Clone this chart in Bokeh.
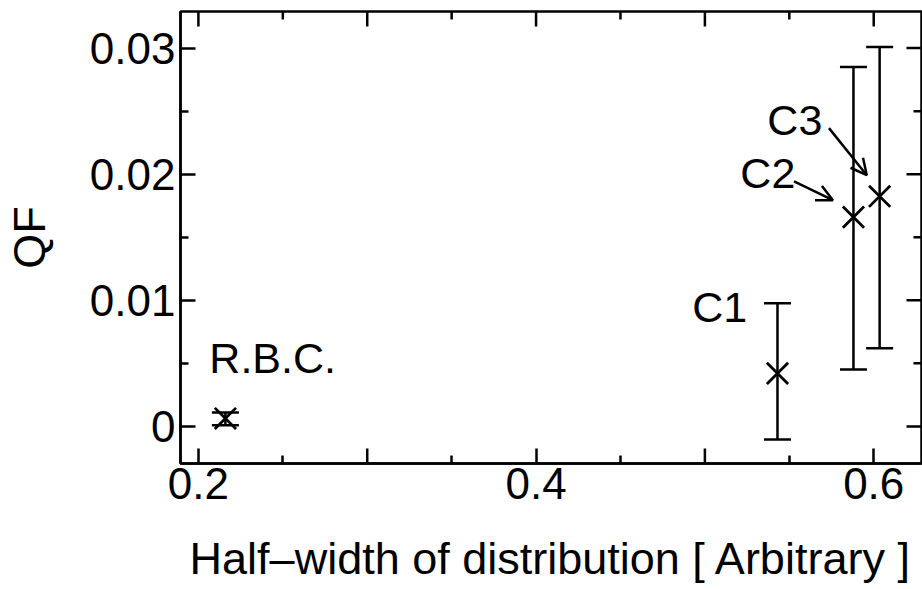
import math
from bokeh.plotting import figure
from bokeh.models import (ColumnDataSource, Whisker, TeeHead, Arrow, OpenHead,
                          FixedTicker, Range1d)
from bokeh.core.properties import value
from bokeh.embed import file_html
from bokeh.resources import INLINE

# ---- data ----
names = ["R.B.C.", "C1", "C2", "C3"]
half_width = [0.216, 0.543, 0.588, 0.6035]
qf = [0.00063, 0.0042, 0.0166, 0.01825]
qf_low = [0.0001, -0.00103, 0.00452, 0.00619]
qf_high = [0.0011, 0.00976, 0.0285, 0.03008]

x_labeled = [0.2, 0.4, 0.6]
x_unlabeled_major = [0.3, 0.5]
x_minor = [0.25, 0.35, 0.45, 0.55]
y_major = [0.0, 0.01, 0.02, 0.03]
y_minor = [0.005, 0.015, 0.025]
y_labels = {0.0: "0", 0.01: "0.01", 0.02: "0.02", 0.03: "0.03"}

# annotation placement (label anchors and arrows)
label_x = [0.2065, 0.4925, 0.521, 0.537]
label_y = [0.0054, 0.00944, 0.02008, 0.02429]
arrow_x0 = [0.5528, 0.5735]
arrow_y0 = [0.01944, 0.02365]
arrow_x1 = [0.5758, 0.5959]
arrow_y1 = [0.01794, 0.01992]

X_START, X_END = 0.1894, 0.6283
Y_START, Y_END = -0.00294, 0.0329

FONT = "Liberation Sans"
W, H = 922, 589
MAJ, MIN = 30, 16   # tick marker sizes (half shows inside the frame)
LW = 2.5

p = figure(width=W, height=H, output_backend="svg", toolbar_location=None,
           x_range=Range1d(X_START, X_END), y_range=Range1d(Y_START, Y_END),
           min_border_left=177, min_border_right=1, min_border_top=11,
           min_border_bottom=126)
p.background_fill_color = "white"
p.border_fill_color = "white"
p.grid.visible = False
p.outline_line_color = "black"
p.outline_line_width = LW

def style_axis(ax):
    ax.axis_line_color = "black"
    ax.axis_line_width = LW
    for a in ("major", "minor"):
        setattr(ax, a + "_tick_line_color", "black")
        setattr(ax, a + "_tick_line_width", LW)
        setattr(ax, a + "_tick_out", 0)
    ax.major_tick_in = 15
    ax.minor_tick_in = 8
    ax.major_label_text_font = FONT
    ax.major_label_text_font_size = "44px"
    ax.major_label_text_color = "black"
    ax.axis_label_text_font = FONT
    ax.axis_label_text_font_size = "45px"
    ax.axis_label_text_font_style = "normal"
    ax.axis_label_text_color = "black"

xa = p.xaxis[0]
ya = p.yaxis[0]
style_axis(xa)
style_axis(ya)
xa.ticker = FixedTicker(ticks=x_labeled, minor_ticks=x_minor)
ya.ticker = FixedTicker(ticks=y_major, minor_ticks=y_minor)
ya.major_label_overrides = y_labels
xa.major_label_standoff = 4
ya.major_label_standoff = 5
xa.axis_label = "Half\u2013width of distribution [ Arbitrary ]"
ya.axis_label = "QF"
xa.axis_label_standoff = 31
ya.axis_label_standoff = 32

# unlabeled long ticks on the bottom, and the inward ticks of the top and right frame sides
p.scatter(x_unlabeled_major, [Y_START] * len(x_unlabeled_major), marker="dash",
          size=MAJ, angle=math.pi / 2, line_color="black", line_width=LW)
top_x = x_labeled + x_unlabeled_major
p.scatter(top_x, [Y_END] * len(top_x), marker="dash", size=MAJ, angle=math.pi / 2,
          line_color="black", line_width=LW)
p.scatter(x_minor, [Y_END] * len(x_minor), marker="dash", size=MIN, angle=math.pi / 2,
          line_color="black", line_width=LW)
p.scatter([X_END] * len(y_major), y_major, marker="dash", size=MAJ,
          line_color="black", line_width=LW)
p.scatter([X_END] * len(y_minor), y_minor, marker="dash", size=MIN,
          line_color="black", line_width=LW)

src = ColumnDataSource(dict(x=half_width, y=qf, lo=qf_low, hi=qf_high,
                            names=names, lx=label_x, ly=label_y))

p.add_layout(Whisker(source=src, base="x", lower="lo", upper="hi",
                     line_color="black", line_width=LW,
                     upper_head=TeeHead(size=27, line_color="black", line_width=LW),
                     lower_head=TeeHead(size=27, line_color="black", line_width=LW)))

p.scatter("x", "y", source=src, marker="x", size=30, line_color="black",
          line_width=2.8)

p.text("lx", "ly", text="names", source=src, text_font=value(FONT),
       text_font_size="43px", text_color="black", text_baseline="alphabetic",
       text_align="left")

for x0, y0, x1, y1 in zip(arrow_x0, arrow_y0, arrow_x1, arrow_y1):
    p.add_layout(Arrow(x_start=x0, y_start=y0, x_end=x1, y_end=y1,
                       line_color="black", line_width=LW,
                       end=OpenHead(size=16, line_color="black", line_width=LW)))

open("out.html", "w").write(file_html(p, INLINE))
